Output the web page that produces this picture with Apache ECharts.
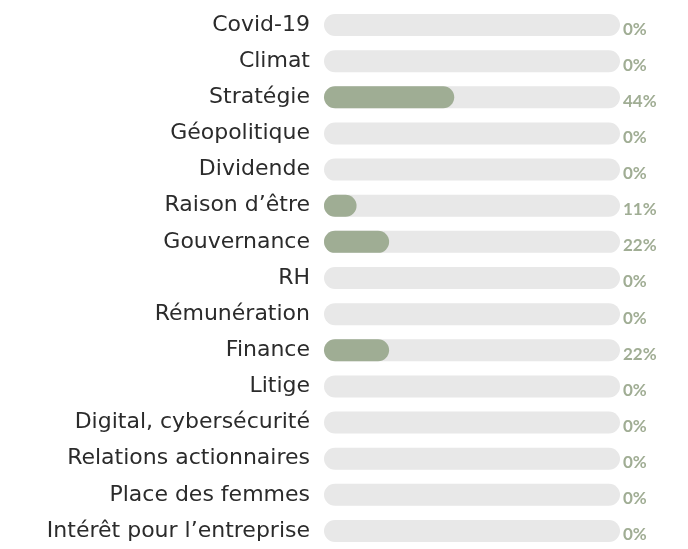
<!DOCTYPE html>
<html>
<head>
<meta charset="utf-8">
<script src="https://cdn.jsdelivr.net/npm/echarts@6/dist/echarts.min.js"></script>
<style>
  html, body { margin: 0; padding: 0; background: #fff; }
  #chart { width: 688px; height: 549px; }
</style>
</head>
<body>
<div id="chart"></div>
<script>
// thèmes et part des réponses (%)
var themes = ['Covid-19', 'Climat', 'Stratégie', 'Géopolitique', 'Dividende', 'Raison d\u2019être', 'Gouvernance', 'RH',
	'Rémunération', 'Finance', 'Litige', 'Digital, cybersécurité', 'Relations actionnaires', 'Place des femmes', 'Intérêt pour l\u2019entreprise'];
var parts = [0, 0, 44, 0, 0, 11, 22, 0, 0, 22, 0, 0, 0, 0, 0];
var fond = [100, 100, 100, 100, 100, 100, 100, 100, 100, 100, 100, 100, 100, 100, 100];

var myChart = echarts.init(document.getElementById('chart'));
var option = {
	animation: false,
	grid: { left: 324, right: 68, top: 7, height: 546 },
	xAxis: { type: 'value', min: 0, max: 100, show: false },
	yAxis: {
		type: 'category',
		inverse: true,
		data: themes,
		axisLine: { show: false },
		axisTick: { show: false },
		axisLabel: { margin: 14, fontSize: 22, color: '#2b2b2b', fontFamily: 'DejaVu Sans', fontWeight: 'normal' }
	},
	series: [
		{
			name: 'fond',
			type: 'bar',
			barWidth: 22,
			barGap: '-100%',
			silent: true,
			itemStyle: { color: '#e8e8e8', borderRadius: 11 },
			label: {
				show: true,
				position: 'right',
				distance: 3,
				offset: [0, 4],
				fontSize: 17,
				fontWeight: 'bold',
				fontFamily: 'Lato',
				color: '#a0ad94',
				formatter: function (p) { return parts[p.dataIndex] + '%'; }
			},
			data: fond
		},
		{
			name: 'part',
			type: 'bar',
			barWidth: 22,
			barGap: '-100%',
			itemStyle: { color: '#9fad94', borderRadius: 11 },
			data: parts
		}
	]
};
myChart.setOption(option);
</script>
</body>
</html>
